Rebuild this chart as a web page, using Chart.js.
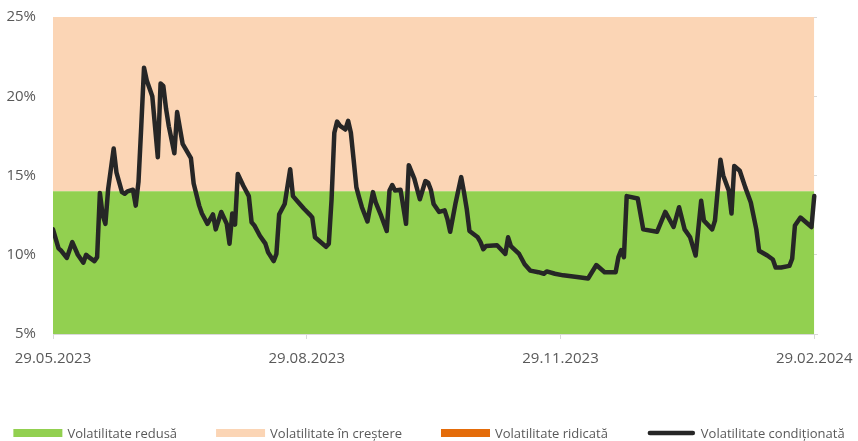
<!DOCTYPE html>
<html>
<head>
<meta charset="utf-8">
<script src="https://cdn.jsdelivr.net/npm/chart.js@4"></script>
<style>
  body { margin: 0; background: #ffffff; }
</style>
</head>
<body>
<canvas id="volChart" width="858" height="441"></canvas>
<script>
// zile de la 29.05.2023 (ziua 0) pana la 29.02.2024 (ziua 276)
const days = [
    0, 2, 3, 5, 7, 9, 11, 12, 13, 15,
    16, 17, 18, 19, 20, 22, 23, 25, 26, 27,
    29, 30, 31, 32, 33, 34, 36, 38, 39, 40,
    41, 42, 44, 45, 47, 50, 51, 53, 54, 56,
    58, 59, 61, 63, 64, 65, 66, 67, 69, 71,
    72, 73, 75, 77, 78, 80, 81, 82, 84, 86,
    87, 89, 91, 93, 94, 95, 97, 99, 100, 101,
    102, 103, 104, 106, 107, 108, 109, 110, 111, 112,
    114, 116, 117, 119, 121, 122, 123, 124, 126, 128,
    129, 131, 133, 135, 136, 137, 138, 140, 142, 143,
    144, 146, 148, 149, 150, 151, 154, 155, 156, 157,
    161, 164, 165, 166, 169, 171, 173, 176, 178, 179,
    182, 185, 190, 194, 197, 200, 204, 205, 206, 207,
    208, 212, 214, 219, 222, 225, 227, 229, 231, 233,
    235, 236, 239, 240, 242, 243, 245, 246, 247, 249,
    251, 253, 255, 256, 259, 261, 262, 264, 267, 268,
    269, 271, 275, 276
];

// volatilitate conditionata (%)
const condVol = [
    11.6, 10.4, 10.25, 9.8, 10.8, 10.0, 9.5, 10.0, 9.85, 9.6,
    9.85, 13.9, 12.5, 11.95, 14.15, 16.7, 15.2, 13.95, 13.85, 14.0,
    14.1, 13.1, 14.6, 18.1, 21.8, 21.0, 20.0, 16.15, 20.8, 20.65,
    19.2, 18.1, 16.4, 19.0, 17.0, 16.1, 14.5, 13.1, 12.6, 11.95,
    12.55, 11.6, 12.7, 11.95, 10.7, 12.6, 11.9, 15.1, 14.35, 13.7,
    12.05, 11.85, 11.2, 10.7, 10.15, 9.6, 10.05, 12.55, 13.2, 15.4,
    13.7, 13.3, 12.9, 12.55, 12.35, 11.1, 10.8, 10.5, 10.7, 13.5,
    17.7, 18.4, 18.15, 17.9, 18.45, 17.7, 16.0, 14.25, 13.6, 13.0,
    12.1, 13.95, 13.3, 12.45, 11.5, 14.05, 14.4, 14.05, 14.1, 11.95,
    15.65, 14.8, 13.5, 14.65, 14.55, 14.1, 13.2, 12.7, 12.8, 12.25,
    11.45, 13.3, 14.9, 13.95, 12.9, 11.5, 11.1, 10.8, 10.35, 10.55,
    10.6, 10.05, 11.1, 10.55, 10.05, 9.4, 9.0, 8.9, 8.8, 8.95,
    8.8, 8.7, 8.6, 8.5, 9.35, 8.9, 8.9, 9.85, 10.3, 9.85,
    13.7, 13.55, 11.6, 11.45, 12.7, 11.75, 13.0, 11.6, 11.1, 9.95,
    13.4, 12.15, 11.6, 12.15, 16.0, 15.0, 14.05, 12.6, 15.6, 15.3,
    14.25, 13.3, 11.6, 10.25, 9.95, 9.7, 9.2, 9.2, 9.3, 9.75,
    11.85, 12.35, 11.75, 13.7
];

// benzile de volatilitate (limita superioara, %)
const bandDays = [0, 276];
const reducedTop = [14, 14];
const risingTop = [25, 25];
const highTop = [25, 25];

const tickDays = [0, 92, 184, 276];
const tickLabels = ['29.05.2023', '29.08.2023', '29.11.2023', '29.02.2024'];

const seriesNames = ['Volatilitate redusă', 'Volatilitate în creștere', 'Volatilitate ridicată', 'Volatilitate condiționată'];

const GREEN = '#92d050';
const PEACH = '#fbd5b5';
const ORANGE = '#e46c0a';
const LINE = '#262626';
const TEXT = '#595959';
const GRID = '#d9d9d9';
const FONT = "'Open Sans', sans-serif";

Chart.defaults.font.family = FONT;
Chart.defaults.color = TEXT;

function toPoints(xs, ys) {
    return xs.map((x, i) => ({ x: x, y: ys[i] }));
}

function bandDataset(label, tops, color, fill, order) {
    return {
        label: label,
        data: toPoints(bandDays, tops),
        backgroundColor: color,
        borderColor: color,
        borderWidth: 0,
        pointRadius: 0,
        fill: fill,
        order: order
    };
}

// legenda desenata manual, pe un singur rand, sub grafic
const legendPlugin = {
    id: 'bottomLegend',
    afterDraw(chart) {
        const ctx = chart.ctx;
        const boxW = 49, boxH = 8, gap = 5, spacing = 39, yMid = 433;
        ctx.save();
        ctx.font = '13px ' + FONT;
        ctx.textBaseline = 'middle';
        ctx.textAlign = 'left';
        const items = chart.data.datasets.map(ds => ({
            text: ds.label,
            color: ds.fill === false ? ds.borderColor : ds.backgroundColor,
            isLine: ds.fill === false
        }));
        const widths = items.map(it => boxW + gap + ctx.measureText(it.text).width);
        const total = widths.reduce((s, w) => s + w, 0) + spacing * (items.length - 1);
        let x = (chart.width - total) / 2;
        items.forEach((it, i) => {
            if (it.isLine) {
                ctx.strokeStyle = it.color;
                ctx.lineWidth = 4.5;
                ctx.lineCap = 'round';
                ctx.beginPath();
                ctx.moveTo(x + 3, yMid);
                ctx.lineTo(x + boxW - 3, yMid);
                ctx.stroke();
            } else {
                ctx.fillStyle = it.color;
                ctx.fillRect(x, yMid - boxH / 2, boxW, boxH);
            }
            ctx.fillStyle = TEXT;
            ctx.fillText(it.text, x + boxW + gap, yMid + 1);
            x += widths[i] + spacing;
        });
        ctx.restore();
    }
};

new Chart(document.getElementById('volChart').getContext('2d'), {
    type: 'line',
    data: {
        datasets: [
            bandDataset(seriesNames[0], reducedTop, GREEN, 'start', 1),
            bandDataset(seriesNames[1], risingTop, PEACH, '-1', 2),
            bandDataset(seriesNames[2], highTop, ORANGE, '-1', 3),
            {
                label: seriesNames[3],
                data: toPoints(days, condVol),
                borderColor: LINE,
                borderWidth: 4.5,
                borderJoinStyle: 'round',
                borderCapStyle: 'round',
                pointRadius: 0,
                tension: 0,
                fill: false,
                order: 0
            }
        ]
    },
    options: {
        responsive: false,
        animation: false,
        layout: { padding: { top: 17, left: 0, right: 0, bottom: 0 } },
        plugins: {
            tooltip: { enabled: false },
            legend: { display: false }
        },
        scales: {
            x: {
                type: 'linear',
                min: 0,
                max: 277,
                afterBuildTicks: (scale) => {
                    scale.ticks = tickDays.map(v => ({ value: v }));
                },
                afterFit: (scale) => {
                    scale.height = 107;
                    scale.paddingLeft = 0;
                    scale.paddingRight = 0;
                },
                grid: { drawOnChartArea: false, drawTicks: true, tickLength: 5, color: GRID },
                border: { display: true, color: GRID, width: 1 },
                ticks: {
                    autoSkip: false,
                    maxRotation: 0,
                    padding: 11,
                    color: TEXT,
                    font: { size: 15 },
                    callback: (value, index) => tickLabels[index]
                }
            },
            y: {
                type: 'linear',
                position: 'left',
                min: 5,
                max: 25,
                afterFit: (scale) => {
                    scale.width = 53;
                    scale.paddingTop = 0;
                    scale.paddingBottom = 0;
                },
                grid: { color: GRID, drawTicks: false },
                border: { display: false },
                ticks: {
                    stepSize: 5,
                    padding: 17,
                    color: TEXT,
                    font: { size: 15 },
                    callback: (value) => value + '%'
                }
            },
            yRight: {
                type: 'linear',
                position: 'right',
                min: 5,
                max: 25,
                afterFit: (scale) => {
                    scale.width = 41;
                    scale.paddingTop = 0;
                    scale.paddingBottom = 0;
                },
                grid: { display: false },
                border: { display: false },
                ticks: { display: false }
            }
        }
    },
    plugins: [legendPlugin]
});
</script>
</body>
</html>
